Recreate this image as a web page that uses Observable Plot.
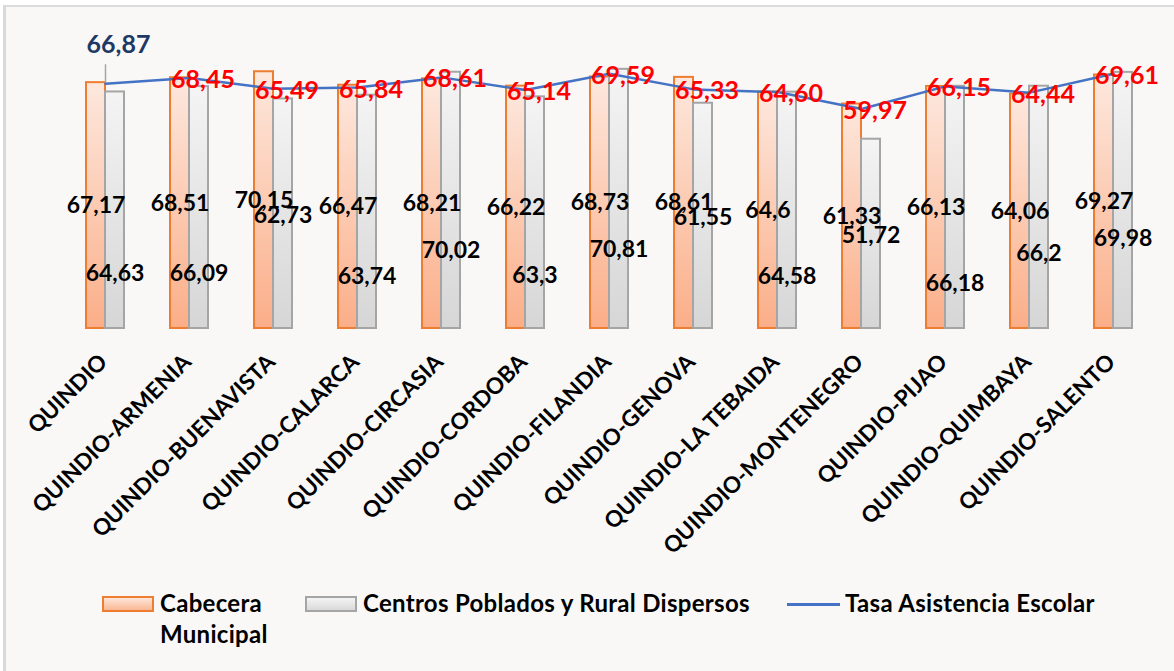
<!DOCTYPE html>
<html>
<head>
<meta charset="utf-8">
<script src="https://cdn.jsdelivr.net/npm/d3@7"></script>
<script src="https://cdn.jsdelivr.net/npm/@observablehq/plot@0.6"></script>
<style>
  html, body { margin: 0; padding: 0; background: #ffffff; }
  #wrap { position: relative; width: 1174px; height: 671px; overflow: hidden; font-family: Lato, "Open Sans", sans-serif; }
  #frame { position: absolute; left: 3px; top: 5px; right: 0; bottom: 0; background: #f9f8f6;
           border-left: 3px solid #d9d9d9; border-top: 2px solid #dcdcdc; }
  #chart { position: absolute; left: 0; top: 0; }
  .lg { position: absolute; font-weight: 700; font-size: 24px; letter-spacing: 0.3px; color: #000; line-height: 31px; }
  .sw { position: absolute; box-sizing: border-box; }
</style>
</head>
<body>
<div id="wrap">
  <div id="frame"></div>
  <div id="chart"></div>
  <div class="sw" style="left:102px;top:596px;width:52px;height:16px;border:2px solid #ed7d31;background:linear-gradient(#fde6da,#fbb794);"></div>
  <div class="lg" style="left:160px;top:587px;width:120px;">Cabecera Municipal</div>
  <div class="sw" style="left:305px;top:596px;width:52px;height:16px;border:2px solid #a5a5a5;background:linear-gradient(#f4f4f4,#d9d9d9);"></div>
  <div class="lg" style="left:363px;top:587px;white-space:nowrap;">Centros Poblados y Rural Dispersos</div>
  <div class="sw" style="left:787px;top:603px;width:53px;height:3px;background:#4472c4;"></div>
  <div class="lg" style="left:845px;top:587px;white-space:nowrap;">Tasa Asistencia Escolar</div>
</div>
<script>
const categories = ["QUINDIO","QUINDIO-ARMENIA","QUINDIO-BUENAVISTA","QUINDIO-CALARCA","QUINDIO-CIRCASIA","QUINDIO-CORDOBA","QUINDIO-FILANDIA","QUINDIO-GENOVA","QUINDIO-LA TEBAIDA","QUINDIO-MONTENEGRO","QUINDIO-PIJAO","QUINDIO-QUIMBAYA","QUINDIO-SALENTO"];
const cabecera = [67.17,68.51,70.15,66.47,68.21,66.22,68.73,68.61,64.6,61.33,66.13,64.06,69.27];
const centros = [64.63,66.09,62.73,63.74,70.02,63.3,70.81,61.55,64.58,51.72,66.18,66.2,69.98];
const tasa = [66.87,68.45,65.49,65.84,68.61,65.14,69.59,65.33,64.60,59.97,66.15,64.44,69.61];
// where each "Centros" data label was placed (in value units), as in the original
const centrosLabelAt = [15.0,15.0,30.9,14.2,21.3,14.5,21.6,30.3,14.2,25.4,12.3,20.5,24.6];

const rows = categories.map((c, i) => ({
  cat: c, cab: cabecera[i], cen: centros[i], tasa: tasa[i], cenAt: centrosLabelAt[i], i
}));
const fmt = v => String(v).replace(".", ",");
const fmt2 = v => v.toFixed(2).replace(".", ",");
const font = "Lato, 'Open Sans', sans-serif";

const chart = Plot.plot({
  width: 1174,
  height: 580,
  marginTop: 0, marginBottom: 0, marginLeft: 0, marginRight: 0,
  style: {background: "transparent", fontFamily: font, overflow: "visible"},
  x: {type: "band", domain: categories, range: [40, 1178], padding: 0.5476, axis: null},
  y: {domain: [0, 80], range: [328, 35.2], axis: null},
  marks: [
    Plot.barY(rows, {x: "cat", y: "cab", insetRight: 19, fill: "url(#gOrange)", stroke: "#ed7d31", strokeWidth: 2}),
    Plot.barY(rows, {x: "cat", y: "cen", insetLeft: 19, fill: "url(#gGray)", stroke: "#a5a5a5", strokeWidth: 2}),
    Plot.ruleX(rows.slice(0, 1), {x: "cat", y1: "tasa", y2: "tasa", insetTop: -19, stroke: "#a6a6a6", strokeWidth: 1.5}),
    Plot.line(rows, {x: "cat", y: "tasa", stroke: "#4472c4", strokeWidth: 2.5}),
    Plot.text(rows, {x: "cat", y: d => d.cab / 2, dx: -9.5, text: d => fmt(d.cab), fontSize: 23, fontWeight: 700, fill: "#000"}),
    Plot.text(rows, {x: "cat", y: "cenAt", dx: 9.5, text: d => fmt(d.cen), fontSize: 23, fontWeight: 700, fill: "#000"}),
    Plot.text(rows.slice(1), {x: "cat", y: "tasa", dx: 13.5, dy: 2, text: d => fmt2(d.tasa), fontSize: 25, fontWeight: 700, fill: "#ff0000"}),
    Plot.text(rows.slice(0, 1), {x: "cat", y: "tasa", dx: 13, dy: -39, text: d => fmt2(d.tasa), fontSize: 25, fontWeight: 700, fill: "#203864"}),
    Plot.text(rows, {x: "cat", frameAnchor: "bottom", y: () => 0, dx: 3, dy: 35, rotate: -45, textAnchor: "end", lineAnchor: "bottom", text: "cat", fontSize: 22.5, fontWeight: 700, fill: "#000"})
  ]
});

const defs = d3.select(chart).insert("defs", ":first-child");
const g1 = defs.append("linearGradient").attr("id", "gOrange").attr("x1", 0).attr("y1", 0).attr("x2", 0).attr("y2", 1);
g1.append("stop").attr("offset", "0%").attr("stop-color", "#fde8de");
g1.append("stop").attr("offset", "100%").attr("stop-color", "#fbae88");
const g2 = defs.append("linearGradient").attr("id", "gGray").attr("x1", 0).attr("y1", 0).attr("x2", 0).attr("y2", 1);
g2.append("stop").attr("offset", "0%").attr("stop-color", "#f4f4f4");
g2.append("stop").attr("offset", "100%").attr("stop-color", "#d6d6d6");

document.getElementById("chart").appendChild(chart);
</script>
</body>
</html>
